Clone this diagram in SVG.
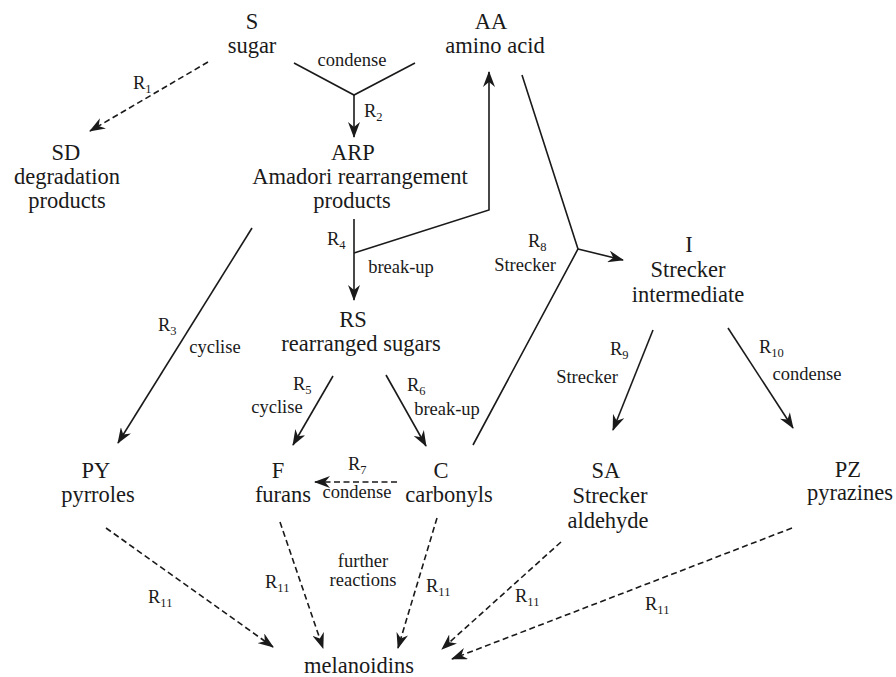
<svg xmlns="http://www.w3.org/2000/svg" width="896" height="677" viewBox="0 0 896 677">
<style>
text{font-family:"Liberation Serif","Times New Roman","DejaVu Serif",serif;fill:#1a1a1a}
.n{font-size:22.5px;text-anchor:middle}
.l{font-size:18.5px}
.c{text-anchor:middle}
.s{font-size:12.5px}
.e{fill:none;stroke:#1a1a1a;stroke-width:1.6}
.d{stroke-dasharray:6,3.5}
</style>
<defs>
<marker id="ah" viewBox="0 0 16 12" refX="15" refY="6" markerWidth="16" markerHeight="12" markerUnits="userSpaceOnUse" orient="auto">
<path d="M0,0 L16,6 L0,12 L5,6 Z" fill="#1a1a1a"/>
</marker>
</defs>
<rect width="896" height="677" fill="#fff"/>
<g id="connectors">
<path class="e d" d="M208,62 L90,131" marker-end="url(#ah)"/>
<path class="e" d="M294,63 L354,95 L415,63"/>
<path class="e" d="M354,95 L354,137" marker-end="url(#ah)"/>
<path class="e" d="M354,219 L354,300" marker-end="url(#ah)"/>
<path class="e" d="M354,253 L489,210 L489,72" marker-end="url(#ah)"/>
<path class="e" d="M522,75 L578,249 L473,445"/>
<path class="e" d="M578,249 L623,260" marker-end="url(#ah)"/>
<path class="e" d="M252,228 L118,443" marker-end="url(#ah)"/>
<path class="e" d="M333,376 L293,445" marker-end="url(#ah)"/>
<path class="e" d="M386,375 L426,446" marker-end="url(#ah)"/>
<path class="e" d="M653,330 L613,430" marker-end="url(#ah)"/>
<path class="e" d="M728,328 L793,428" marker-end="url(#ah)"/>
<path class="e d" d="M397,482 L315,482" marker-end="url(#ah)"/>
<path class="e d" d="M106,528 L273,647" marker-end="url(#ah)"/>
<path class="e d" d="M280,522 L323,648" marker-end="url(#ah)"/>
<path class="e d" d="M437,518 L398,648" marker-end="url(#ah)"/>
<path class="e d" d="M561,542 L442,649" marker-end="url(#ah)"/>
<path class="e d" d="M792,528 L452,659" marker-end="url(#ah)"/>
<text class="l" x="133" y="89">R<tspan class="s" dy="4">1</tspan></text>
<text class="l c" x="352" y="66">condense</text>
<text class="l" x="364" y="117">R<tspan class="s" dy="4">2</tspan></text>
<text class="l" x="327" y="245">R<tspan class="s" dy="4">4</tspan></text>
<text class="l c" x="401" y="273">break-up</text>
<text class="l" x="528" y="247">R<tspan class="s" dy="4">8</tspan></text>
<text class="l c" x="525" y="271">Strecker</text>
<text class="l" x="158" y="331">R<tspan class="s" dy="4">3</tspan></text>
<text class="l c" x="215" y="353">cyclise</text>
<text class="l" x="293" y="390">R<tspan class="s" dy="4">5</tspan></text>
<text class="l c" x="277" y="413">cyclise</text>
<text class="l" x="407" y="391">R<tspan class="s" dy="4">6</tspan></text>
<text class="l c" x="447" y="415">break-up</text>
<text class="l" x="610" y="355">R<tspan class="s" dy="4">9</tspan></text>
<text class="l c" x="587" y="383">Strecker</text>
<text class="l" x="759" y="353">R<tspan class="s" dy="4">10</tspan></text>
<text class="l c" x="807" y="380">condense</text>
<text class="l" x="348" y="470">R<tspan class="s" dy="4">7</tspan></text>
<text class="l c" x="357" y="498">condense</text>
<text class="l c" x="363" y="567">further</text>
<text class="l c" x="363" y="586">reactions</text>
<text class="l" x="148" y="603">R<tspan class="s" dy="4">11</tspan></text>
<text class="l" x="265" y="588">R<tspan class="s" dy="4">11</tspan></text>
<text class="l" x="426" y="592">R<tspan class="s" dy="4">11</tspan></text>
<text class="l" x="515" y="602">R<tspan class="s" dy="4">11</tspan></text>
<text class="l" x="645" y="610">R<tspan class="s" dy="4">11</tspan></text>
</g>
<g id="S"><text class="n" x="252" y="29">S</text><text class="n" x="252" y="53">sugar</text></g>
<g id="AA"><text class="n" x="491" y="29">AA</text><text class="n" x="495" y="53">amino acid</text></g>
<g id="SD"><text class="n" x="66" y="160">SD</text><text class="n" x="67" y="184">degradation</text><text class="n" x="67" y="208">products</text></g>
<g id="ARP"><text class="n" x="353" y="160">ARP</text><text class="n" x="360" y="184">Amadori rearrangement</text><text class="n" x="352" y="208">products</text></g>
<g id="RS"><text class="n" x="353" y="327">RS</text><text class="n" x="361" y="351">rearranged sugars</text></g>
<g id="I"><text class="n" x="689" y="252">I</text><text class="n" x="688" y="277">Strecker</text><text class="n" x="688" y="302">intermediate</text></g>
<g id="PY"><text class="n" x="96" y="478">PY</text><text class="n" x="98" y="502">pyrroles</text></g>
<g id="F"><text class="n" x="278" y="478">F</text><text class="n" x="283" y="502">furans</text></g>
<g id="C"><text class="n" x="441" y="478">C</text><text class="n" x="449" y="502">carbonyls</text></g>
<g id="SA"><text class="n" x="606" y="478">SA</text><text class="n" x="610" y="503">Strecker</text><text class="n" x="608" y="528">aldehyde</text></g>
<g id="PZ"><text class="n" x="848" y="477">PZ</text><text class="n" x="850" y="500">pyrazines</text></g>
<g id="M"><text class="n" x="359" y="673">melanoidins</text></g>
</svg>
